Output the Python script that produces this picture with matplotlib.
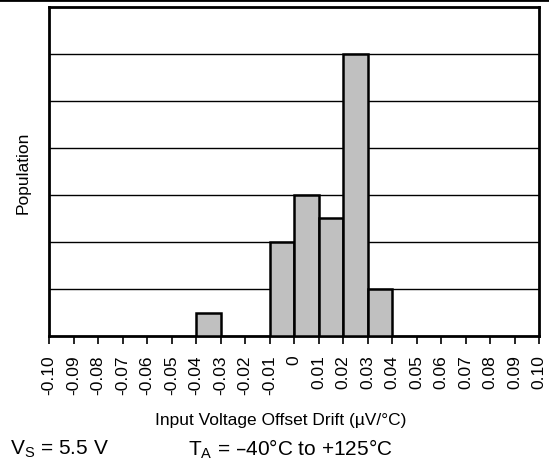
import matplotlib.pyplot as plt
from matplotlib.lines import Line2D
import numpy as np

plt.rcParams['font.family'] = ['Liberation Sans', 'DejaVu Sans']

# bin left edges and bar heights (grid units)
bin_left = [-0.04, -0.01, 0.00, 0.01, 0.02, 0.03]
heights = [0.5, 2, 3, 2.5, 6, 1]
bin_width = 0.01
tick_vals = np.round(np.arange(-0.10, 0.1001, 0.01), 2)
tick_labels = ['-0.10', '-0.09', '-0.08', '-0.07', '-0.06', '-0.05', '-0.04',
               '-0.03', '-0.02', '-0.01', '0', '0.01', '0.02', '0.03', '0.04',
               '0.05', '0.06', '0.07', '0.08', '0.09', '0.10']

fig = plt.figure(figsize=(5.49, 4.64), dpi=100)
ax = fig.add_axes([0.0893, 0.2737, 0.8925, 0.7091])

ax.bar(bin_left, heights, width=bin_width, align='edge',
       color='#c0c0c0', edgecolor='black', linewidth=1.8, zorder=3)

ax.set_xlim(-0.10, 0.10)
ax.set_ylim(0, 7)
ax.set_yticks(range(1, 7))
ax.set_yticklabels([])
ax.tick_params(axis='y', length=0)
ax.grid(axis='y', color='black', linewidth=1.0, zorder=0)

ax.set_xticks(tick_vals)
ax.set_xticklabels(tick_labels, rotation=90, fontsize=12.5)
ax.tick_params(axis='x', direction='out', length=6, width=1.2, pad=7)

for s in ax.spines.values():
    s.set_linewidth(2)

ax.set_ylabel('Population', fontsize=12.5, labelpad=10)

fig.text(0.512, 0.093, 'Input Voltage Offset Drift (µV/°C)', fontsize=12.5,
         ha='center', va='center')
fig.text(0.018, 0.032, r'V$_\mathregular{S}$ = 5.5 V', fontsize=15, ha='left', va='center')
fig.text(0.342, 0.032, r'T$_\mathregular{A}$ = –40°C to +125°C', fontsize=15,
         ha='left', va='center')

fig.add_artist(Line2D([0, 1], [0.998, 0.998], color='black', linewidth=2,
                      transform=fig.transFigure))

fig.savefig('out.png', dpi=100)
